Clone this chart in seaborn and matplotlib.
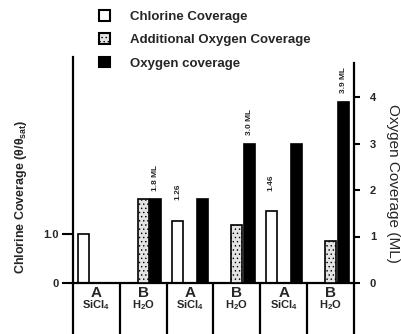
import numpy as np
import pandas as pd
import matplotlib
matplotlib.use("Agg")
import matplotlib.pyplot as plt
import matplotlib.colors as mcolors
import seaborn as sns
from matplotlib.patches import Patch
from matplotlib.transforms import blended_transform_factory

# Dosing sequence: alternating SiCl4 (A) and H2O (B) half-cycles
steps = ["A1", "B1", "A2", "B2", "A3", "B3"]
step_letters = ["A", "B", "A", "B", "A", "B"]
reagents = ["SiCl$_4$", "H$_2$O", "SiCl$_4$", "H$_2$O", "SiCl$_4$", "H$_2$O"]

series = ["Chlorine Coverage", "Additional Oxygen Coverage", "Oxygen coverage"]
chlorine = [1.0, np.nan, 1.26, np.nan, 1.46, np.nan]      # theta / theta_sat
add_oxygen = [np.nan, 1.8, np.nan, 1.25, np.nan, 0.9]     # ML
oxygen = [0.0, 1.8, 1.8, 3.0, 3.0, 3.9]                   # ML

chlorine_ticks = [0, 1.0]
chlorine_ticklabels = ["0", "1.0"]
oxygen_ticks = [0, 1, 2, 3, 4]

labelled_chlorine = [2, 4]
labelled_oxygen = [1, 3, 5]

sns.set_theme(style="ticks")
plt.rcParams["font.family"] = ["Liberation Sans", "DejaVu Sans"]
plt.rcParams["font.weight"] = "bold"
plt.rcParams["mathtext.fontset"] = "custom"
plt.rcParams["mathtext.rm"] = "Liberation Sans:bold"
plt.rcParams["mathtext.it"] = "Liberation Sans:bold"
plt.rcParams["mathtext.default"] = "rm"
plt.rcParams["hatch.linewidth"] = 0.5

W, H = 402, 334
fig = plt.figure(figsize=(W / 100, H / 100), dpi=100)
ax = fig.add_axes([73 / W, 51 / H, 281 / W, 226 / H])
ax2 = ax.twinx()

df = pd.DataFrame({
    "step": steps * 3,
    "series": np.repeat(series, len(steps)),
    "value": chlorine + add_oxygen + oxygen,
}).dropna()

colors = ["white", "#e4e4e4", "black"]
palette = dict(zip(series, colors))
common = dict(x="step", y="value", hue="series", hue_order=series, order=steps,
              palette=palette, edgecolor="black", linewidth=1.2, gap=0.12,
              dodge=True, legend=False)

sns.barplot(data=df[df.series == series[0]], ax=ax, **common)
sns.barplot(data=df[df.series != series[0]], ax=ax2, **common)

# stipple texture for the additional-oxygen bars
stipple = mcolors.to_rgba(colors[1])
for p in ax2.patches:
    if np.allclose(p.get_facecolor(), stipple):
        p.set_hatch("....")

# axes limits / ticks
ax.set_ylim(0, 226 / 49)
ax2.set_ylim(0, 226 / 46.5)
ax.set_xlim(-0.5, len(steps) - 0.5)
ax.set_yticks(chlorine_ticks, chlorine_ticklabels)
ax2.set_yticks(oxygen_ticks, [str(t) for t in oxygen_ticks])
ax.tick_params(axis="y", direction="out", length=8, width=1.5, pad=2,
               labelsize=8, color="black")
ax2.tick_params(axis="y", direction="out", length=4.5, width=1.5, pad=7,
                labelsize=8, color="black")
ax.tick_params(axis="x", length=0, labelbottom=False)
ax2.tick_params(axis="x", length=0, labelbottom=False)
for a in (ax, ax2):
    a.set_xlabel("")
    for lab in a.get_yticklabels():
        lab.set_fontweight("bold")

for name, sp in ax.spines.items():
    sp.set_visible(name in ("left", "bottom"))
    sp.set_linewidth(1.6)
    sp.set_color("black")
for name, sp in ax2.spines.items():
    sp.set_visible(name == "right")
    sp.set_linewidth(1.6)
    sp.set_color("black")
ax2.spines["right"].set_bounds(0, 220 / 46.5)

# category boxes below the baseline
trans = blended_transform_factory(ax.transData, ax.transAxes)
for xb in np.arange(len(steps) + 1) - 0.5:
    ax.plot([xb, xb], [0, -51 / 226], transform=trans, clip_on=False,
            color="black", lw=1.6)
for i, (letter, reagent) in enumerate(zip(step_letters, reagents)):
    ax.text(i, -0.044, letter, transform=trans, ha="center", va="center",
            fontsize=11, fontweight="bold")
    ax.text(i, -0.10, reagent, transform=trans, ha="center", va="center",
            fontsize=8, fontweight="bold")

# axis titles
ax.set_ylabel("Chlorine Coverage (θ/θ$_{sat}$)", fontsize=9, fontweight="bold")
ax.yaxis.label.set_va("center")
ax.yaxis.set_label_coords(-0.185, 0.38)
ax2.set_ylabel("Oxygen Coverage (ML)", fontsize=11, fontweight="normal",
               rotation=270)
ax2.yaxis.label.set_va("center")
ax2.yaxis.set_label_coords(1.139, 0.442)


def bar_centers(axis, color):
    rgba = mcolors.to_rgba(color)
    out = {}
    for p in axis.patches:
        if np.allclose(p.get_facecolor(), rgba):
            c = p.get_x() + p.get_width() / 2
            out[int(round(c))] = c
    return out


black_x = bar_centers(ax2, colors[2])
for i in labelled_oxygen:
    v = oxygen[i]
    ax2.annotate(f"{v:.1f} ML", xy=(black_x[i], v), xytext=(0, 6),
                 textcoords="offset points", rotation=90, ha="center",
                 va="bottom", fontsize=6, fontweight="bold")

white_x = bar_centers(ax, colors[0])
for i in labelled_chlorine:
    v = chlorine[i]
    ax.annotate(f"{v:.2f}", xy=(white_x[i], v), xytext=(0, 15),
                textcoords="offset points", rotation=90, ha="center",
                va="bottom", fontsize=6, fontweight="bold")

# legend
handles = [Patch(facecolor=c, edgecolor="black", linewidth=1.5,
                 hatch="...." if k == 1 else None)
           for k, c in enumerate(colors)]
fig.legend(handles, series, loc="upper left",
           bbox_to_anchor=(99 / W, 1 - 10 / H), frameon=False,
           prop={"size": 9.5, "weight": "bold"}, handlelength=0.85,
           handleheight=0.85, handletextpad=1.5, labelspacing=0.8,
           borderpad=0, borderaxespad=0)

fig.savefig("out.png", dpi=100)
